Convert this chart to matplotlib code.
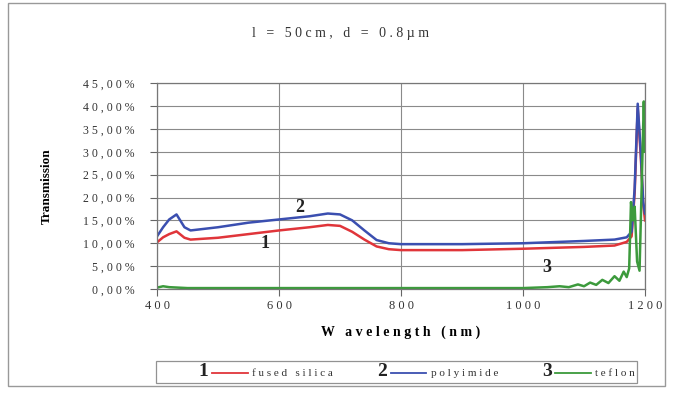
import matplotlib
matplotlib.use("Agg")
import matplotlib.pyplot as plt
from matplotlib.lines import Line2D
from matplotlib.patches import Rectangle

# wavelength grid (nm) shared by fused silica and polyimide
wavelength = [400, 410, 420, 432, 445, 455, 500, 550, 600, 650, 680, 700,
              720, 740, 760, 780, 800, 900, 1000, 1100, 1150, 1170, 1178,
              1183, 1188, 1193, 1197, 1200]
fused_silica = [10.2, 11.3, 12.0, 12.6, 11.2, 10.8, 11.2, 12.0, 12.8, 13.5,
                14.0, 13.8, 12.5, 10.8, 9.3, 8.7, 8.5, 8.5, 8.8, 9.2, 9.5,
                10.3, 11.5, 21.0, 39.5, 29.0, 18.5, 15.0]
polyimide = [11.5, 13.5, 15.2, 16.3, 13.5, 12.8, 13.5, 14.5, 15.2, 15.9,
             16.5, 16.3, 15.0, 12.8, 10.7, 10.0, 9.8, 9.8, 10.0, 10.5, 10.8,
             11.3, 12.5, 22.0, 40.5, 30.0, 19.0, 16.5]

teflon_wl = [400, 410, 420, 450, 600, 800, 1000, 1040, 1060, 1075, 1090,
             1100, 1110, 1120, 1130, 1140, 1150, 1158, 1165, 1170, 1174,
             1177, 1180, 1183, 1187, 1191, 1195, 1198, 1200]
teflon = [0.3, 0.6, 0.4, 0.2, 0.2, 0.2, 0.2, 0.4, 0.6, 0.4, 1.0, 0.6, 1.4,
          0.9, 2.0, 1.3, 2.8, 1.8, 3.8, 2.6, 4.5, 19.0, 15.0, 18.0, 6.0,
          4.0, 25.0, 41.0, 30.0]

y_ticks = [0, 5, 10, 15, 20, 25, 30, 35, 40, 45]
x_ticks = [400, 600, 800, 1000, 1200]

RED = "#e0353a"
BLUE = "#3b4fb0"
GREEN = "#3c9a3c"
SERIF = "Liberation Serif"


def spaced(s, sep="\u2002"):
    return sep.join(s)


fig = plt.figure(figsize=(6.75, 3.94), dpi=100)
ax = fig.add_axes([0.2326, 0.2665, 0.7230, 0.5225])

ax.plot(wavelength, fused_silica, color=RED, lw=1.8)
ax.plot(wavelength, polyimide, color=BLUE, lw=1.8)
ax.plot(teflon_wl, teflon, color=GREEN, lw=1.8)

ax.set_xlim(400, 1200)
ax.set_ylim(0, 45)
ax.set_yticks(y_ticks)
ax.set_yticklabels([spaced(f"{v:.2f}".replace(".", ",") + "%", " ")
                    for v in y_ticks], family=SERIF, fontsize=8.5,
                   color="#333333")
ax.set_xticks(x_ticks)
ax.set_xticklabels([spaced(str(v), " ") for v in x_ticks], family=SERIF,
                   fontsize=9, color="#333333")
ax.tick_params(axis="both", direction="out", length=5, width=0.8,
               color="#666666")
ax.tick_params(axis="y", pad=11)
ax.tick_params(axis="x", pad=3)
ax.grid(True, color="#8a8a8a", lw=0.8)
ax.set_axisbelow(True)
for sp in ax.spines.values():
    sp.set_color("#777777")
    sp.set_linewidth(0.9)

ax.set_ylabel("Transmission", family=SERIF, fontweight="bold", fontsize=9.5,
              labelpad=22)
ax.set_xlabel(spaced("W avelength (nm)", " "), family=SERIF,
              fontweight="bold", fontsize=10, labelpad=10)
fig.text(0.505, 0.915, spaced("l = 50cm, d = 0.8µm", " "), family=SERIF,
         fontsize=10, ha="center", va="center", color="#333333")

# curve numbers
for label, (xv, yv) in zip(["1", "2", "3"],
                           [(577, 10.0), (634, 17.9), (1039, 4.6)]):
    ax.text(xv, yv, label, family=SERIF, fontweight="bold", fontsize=13,
            ha="center", va="center", color="#222222")

# legend: number entries with hidden handles, then coloured lines
blank = Line2D([], [], color="none")
handles = [blank, Line2D([], [], color=RED, lw=1.3),
           blank, Line2D([], [], color=BLUE, lw=1.3),
           blank, Line2D([], [], color=GREEN, lw=1.3)]
labels = ["1", spaced("fused silica", " "), "2", spaced("polyimide", " "),
          "3", spaced("teflon", " ")]
leg = fig.legend(handles, labels, ncol=6, loc="center",
                 bbox_to_anchor=(0.588, 0.056), frameon=True, fancybox=False,
                 handlelength=3.2, handletextpad=0.4, columnspacing=0.35,
                 borderpad=0.2, prop={"family": SERIF, "size": 8})
leg.get_frame().set_edgecolor("#777777")
leg.get_frame().set_linewidth(0.9)
for i, t in enumerate(leg.get_texts()):
    if i % 2 == 0:
        t.set_fontsize(14)
        t.set_fontweight("bold")
        t.set_color("#222222")
    else:
        t.set_color("#333333")

fig.patches.append(Rectangle((8 / 675, 0.02), 657 / 675, 0.972,
                             transform=fig.transFigure, fill=False,
                             edgecolor="#999999", lw=1.0))

fig.savefig("out.png", dpi=100)
